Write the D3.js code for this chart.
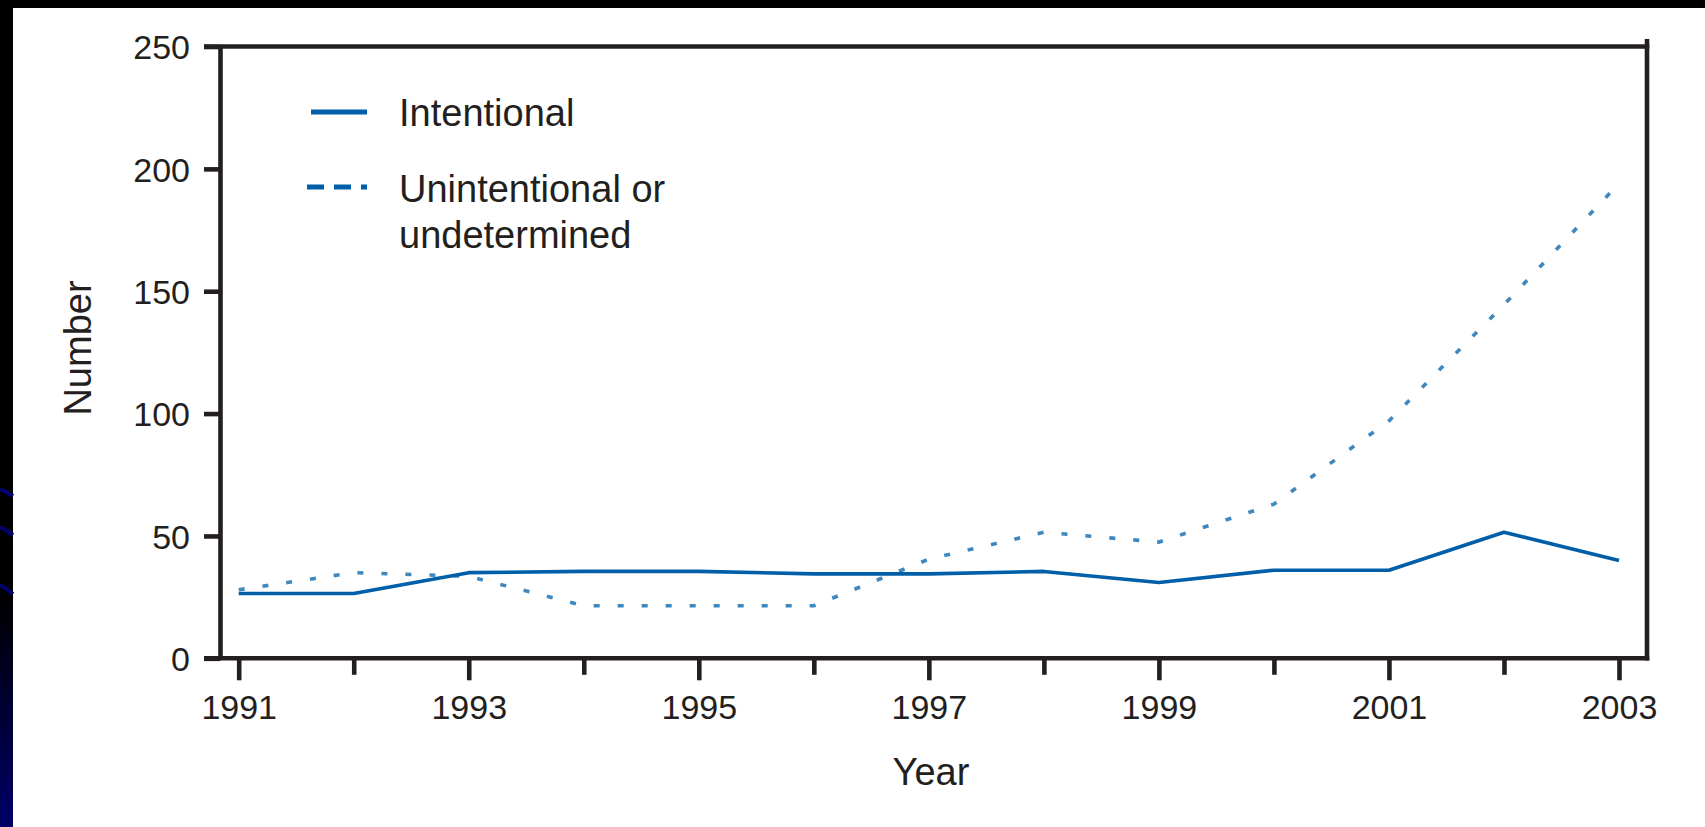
<!DOCTYPE html>
<html>
<head>
<meta charset="utf-8">
<script src="https://cdn.jsdelivr.net/npm/d3@7"></script>
<style>
  html, body { margin: 0; padding: 0; background: #ffffff; overflow: hidden; }
  svg { display: block; }
  text { font-family: "Liberation Sans", Arial, Helvetica, sans-serif; fill: #231f20; }
</style>
</head>
<body>
<svg id="chart" width="1705" height="827"></svg>
<script>
// Annual counts, 1991-2003
const years = [1991, 1992, 1993, 1994, 1995, 1996, 1997, 1998, 1999, 2000, 2001, 2002, 2003];
const intentional = [26.5, 26.5, 35, 35.5, 35.5, 34.5, 34.5, 35.5, 31, 36, 36, 51.5, 40];
const unintentional = [28, 35, 33.5, 21.5, 21.5, 21.5, 40.5, 51.5, 47.5, 63, 97, 144.5, 194];

const yTickValues = [0, 50, 100, 150, 200, 250];
const xLabelYears = [1991, 1993, 1995, 1997, 1999, 2001, 2003];

const seriesNames = ["Intentional", "Unintentional or", "undetermined"];
const axisTitleX = "Year";
const axisTitleY = "Number";

const lineColor = "#005fa8";
const axisColor = "#231f20";

const svg = d3.select("#chart");
const W = 1705, H = 827;

// slide background: white page with dark frame on top and left
const defs = svg.append("defs");
const grad = defs.append("linearGradient")
  .attr("id", "edgeFade")
  .attr("gradientUnits", "userSpaceOnUse")
  .attr("x1", 0).attr("y1", 0).attr("x2", 0).attr("y2", H);
grad.append("stop").attr("offset", 0.72).attr("stop-color", "#000000");
grad.append("stop").attr("offset", 1).attr("stop-color", "#000068");

svg.append("rect").attr("width", W).attr("height", H).attr("fill", "#ffffff");
svg.append("rect").attr("x", 0).attr("y", 0).attr("width", W).attr("height", 8).attr("fill", "#000000");
svg.append("rect").attr("x", 0).attr("y", 0).attr("width", 13).attr("height", H).attr("fill", "url(#edgeFade)");
const swoosh = svg.append("g").attr("stroke", "#00006e").attr("stroke-width", 4).attr("fill", "none");
[[489, 496], [527, 535], [585, 594]].forEach(([a, b]) => {
  swoosh.append("path").attr("d", `M0,${a} Q6,${(a + b) / 2 - 1} 13,${b}`);
});

// scales
const x = d3.scaleLinear().domain([1991, 2003]).range([238.7, 1619]);
const y = d3.scaleLinear().domain([0, 250]).range([658.3, 46.5]);

const plotLeft = 220.5, plotRight = 1647, frameLeft = 204;

// frame lines
const frame = svg.append("g").attr("stroke", axisColor).attr("stroke-width", 4.6).attr("fill", "none");
frame.append("line").attr("x1", frameLeft).attr("x2", plotRight + 2.3).attr("y1", y(250)).attr("y2", y(250));
frame.append("line").attr("x1", frameLeft).attr("x2", plotRight + 2.3).attr("y1", y(0)).attr("y2", y(0));
frame.append("line").attr("x1", plotRight).attr("x2", plotRight).attr("y1", 39).attr("y2", y(0) + 2.3);

// y axis
const yAxis = d3.axisLeft(y).tickValues(yTickValues).tickSize(16.5).tickPadding(14).tickFormat(d3.format("d"));
const gy = svg.append("g").attr("transform", `translate(${plotLeft},0)`).call(yAxis);
gy.select(".domain").attr("d", `M0,${y(250)}V${y(0)}`).attr("stroke", axisColor).attr("stroke-width", 4.6);
gy.selectAll(".tick line").attr("stroke", axisColor).attr("stroke-width", 4.6);
gy.selectAll(".tick text")
  .style("font-size", "34px").attr("fill", axisColor).attr("dy", "0.36em");

// x axis: long ticks with labels on odd years, short ticks in between
const xAxis = d3.axisBottom(x).tickValues(years).tickSizeOuter(0)
  .tickFormat(d => xLabelYears.includes(d) ? String(d) : "");
const gx = svg.append("g").attr("transform", `translate(0,${y(0)})`).call(xAxis);
gx.select(".domain").remove();
gx.selectAll(".tick line")
  .attr("stroke", axisColor).attr("stroke-width", 4.6)
  .attr("y2", d => xLabelYears.includes(d) ? 22 : 16.5);
gx.selectAll(".tick text")
  .style("font-size", "34px").attr("fill", axisColor)
  .attr("y", 61).attr("dy", 0);

// axis titles
svg.append("text").attr("x", 931).attr("y", 785)
  .attr("text-anchor", "middle").style("font-size", "38px").text(axisTitleX);
svg.append("text")
  .attr("transform", "translate(91,348) rotate(-90)")
  .attr("text-anchor", "middle").style("font-size", "38px").text(axisTitleY);

// data lines
const line = d3.line().x((d, i) => x(years[i])).y(d => y(d));

svg.append("path").datum(unintentional)
  .attr("d", line).attr("fill", "none")
  .attr("stroke", lineColor).attr("stroke-opacity", 0.75)
  .attr("stroke-width", 3.6).attr("stroke-dasharray", "6,18");

svg.append("path").datum(intentional)
  .attr("d", line).attr("fill", "none")
  .attr("stroke", lineColor).attr("stroke-width", 3.6).attr("stroke-linejoin", "round");

// legend
const legend = svg.append("g");
legend.append("line").attr("x1", 311).attr("x2", 367).attr("y1", 112).attr("y2", 112)
  .attr("stroke", lineColor).attr("stroke-width", 4.8);
legend.append("line").attr("x1", 307).attr("x2", 367).attr("y1", 187).attr("y2", 187)
  .attr("stroke", lineColor).attr("stroke-width", 4.8).attr("stroke-dasharray", "17,10");
legend.append("text").attr("x", 399).attr("y", 126).style("font-size", "38px").text(seriesNames[0]);
legend.append("text").attr("x", 399).attr("y", 202).style("font-size", "38px").text(seriesNames[1]);
legend.append("text").attr("x", 399).attr("y", 248).style("font-size", "38px").text(seriesNames[2]);
</script>
</body>
</html>
